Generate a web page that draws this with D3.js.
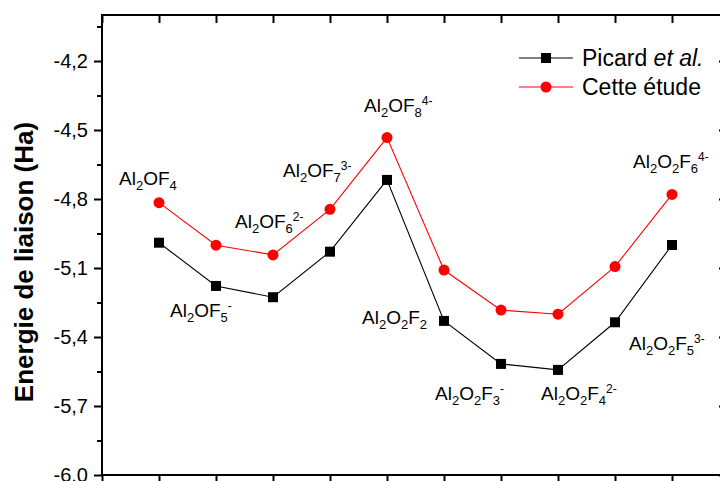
<!DOCTYPE html>
<html><head><meta charset="utf-8">
<script src="https://cdn.jsdelivr.net/npm/d3@7"></script>
<style>body{margin:0;background:#fff}svg{display:block}text{font-family:"Liberation Sans",Arial,sans-serif}</style>
</head><body><svg id="c" width="720" height="481"></svg>
<script>
const categories = [1,2,3,4,5,6,7,8,9,10];
const compounds = ["Al_2OF_4","Al_2OF_5^-","Al_2OF_6^2-","Al_2OF_7^3-","Al_2OF_8^4-","Al_2O_2F_2","Al_2O_2F_3^-","Al_2O_2F_4^2-","Al_2O_2F_5^3-","Al_2O_2F_6^4-"];
const picard = [-4.99,-5.178,-5.227,-5.029,-4.717,-5.330,-5.517,-5.543,-5.336,-5.000];
const cetteEtude = [-4.816,-5.001,-5.043,-4.845,-4.533,-5.109,-5.283,-5.301,-5.094,-4.780];
const yMajorTicks = [-6.0,-5.7,-5.4,-5.1,-4.8,-4.5,-4.2];
const yMinorTicks = [-5.85,-5.55,-5.25,-4.95,-4.65,-4.35,-4.05];
const xTicks = [0,1,2,3,4,5,6,7,8,9,10,11];
const seriesNames = ["Picard ", "et al.", "Cette étude"];

const svg = d3.select("#c");
const L = 102, T = 15, B = 475, Rax = 727;
const x = d3.scaleLinear().domain([0,11]).range([L, L + 57*11]);
const y = d3.scaleLinear().domain([-6.0,-4.0]).range([B, T]);
const fmt = v => d3.format(".1f")(v).replace("−","-").replace(".",",");

// left axis
const gl = svg.append("g").attr("transform",`translate(${L},0)`);
gl.call(d3.axisLeft(y).tickValues(yMajorTicks).tickSize(8).tickPadding(6).tickFormat(fmt));
gl.append("g").call(d3.axisLeft(y).tickValues(yMinorTicks).tickSize(5).tickFormat(""));
gl.selectAll(".domain").remove();
gl.selectAll("line").attr("stroke","#000").attr("stroke-width",2);
gl.selectAll("text").attr("font-size",20).attr("fill","#000").style("font-family","'Liberation Sans',Arial,sans-serif");

// right axis
const gr = svg.append("g").attr("transform",`translate(${Rax},0)`);
gr.call(d3.axisLeft(y).tickValues(yMajorTicks).tickSize(-8).tickFormat(""));
gr.selectAll(".domain").remove();
gr.selectAll("line").attr("stroke","#000").attr("stroke-width",2).attr("transform","translate(0,0)");
gr.selectAll("line").attr("x2",-8);

// top axis
const gt = svg.append("g").attr("transform",`translate(0,${T})`);
gt.call(d3.axisTop(x).tickValues(xTicks).tickSize(-8).tickFormat(""));
gt.selectAll(".domain").remove();
gt.selectAll("line").attr("stroke","#000").attr("stroke-width",2);

// bottom axis
const gb = svg.append("g").attr("transform",`translate(0,${B})`);
gb.call(d3.axisBottom(x).tickValues(xTicks).tickSize(7).tickFormat(""));
gb.selectAll(".domain").remove();
gb.selectAll("line").attr("stroke","#000").attr("stroke-width",2);

// frame lines
svg.append("line").attr("x1",L).attr("x2",L).attr("y1",T-1).attr("y2",B+1).attr("stroke","#000").attr("stroke-width",2);
svg.append("line").attr("x1",L-1).attr("x2",Rax+1).attr("y1",T).attr("y2",T).attr("stroke","#000").attr("stroke-width",2);
svg.append("line").attr("x1",L-1).attr("x2",Rax+1).attr("y1",B).attr("y2",B).attr("stroke","#000").attr("stroke-width",2);
svg.append("line").attr("x1",Rax).attr("x2",Rax).attr("y1",T).attr("y2",B).attr("stroke","#000").attr("stroke-width",2);

// y label
svg.append("text").attr("transform",`translate(33,262) rotate(-90)`).attr("text-anchor","middle")
  .attr("font-size",26).attr("font-weight","bold").attr("fill","#000").text("Energie de liaison (Ha)");

const line = d3.line().x((d,i)=>x(categories[i])).y(d=>y(d));
svg.append("path").datum(picard).attr("d",line).attr("fill","none").attr("stroke","#000").attr("stroke-width",1.1);
svg.append("path").datum(cetteEtude).attr("d",line).attr("fill","none").attr("stroke","#f00").attr("stroke-width",1.1);

svg.append("g").selectAll("rect").data(picard).join("rect")
  .attr("x",(d,i)=>x(categories[i])-5).attr("y",d=>y(d)-5).attr("width",10).attr("height",10).attr("fill","#000");
svg.append("g").selectAll("circle").data(cetteEtude).join("circle")
  .attr("cx",(d,i)=>x(categories[i])).attr("cy",d=>y(d)).attr("r",5.5).attr("fill","#f00");

// compound labels: [series (0 picard,1 cette), dx, dy]
const labelPos = [[1,-40,-18],[0,-46,31],[1,-38,-27],[1,-47,-32],[1,-23,-26],[0,-82,3],[0,-66,36],[0,-17,30],[0,14,28],[1,-39,-26]];
function formula(sel, s){
  let i=0, shift=0;
  const MAIN=19, SUB=13, SUP=12;
  while(i<s.length){
    const c=s[i];
    if(c==="_"){ const t=sel.append("tspan").attr("font-size",SUB).attr("dy",5-shift).text(s[i+1]); shift=5; i+=2; }
    else if(c==="^"){ const t=sel.append("tspan").attr("font-size",SUP).attr("dy",-7-shift).text(s.slice(i+1)); shift=-7; i=s.length; }
    else { let j=i; while(j<s.length && s[j]!=="_" && s[j]!=="^") j++; sel.append("tspan").attr("font-size",MAIN).attr("dy",-shift).text(s.slice(i,j)); shift=0; i=j; }
  }
}
compounds.forEach((s,k)=>{
  const p=labelPos[k]; const v=(p[0]===0?picard:cetteEtude)[k];
  const t=svg.append("text").attr("x",x(categories[k])+p[1]).attr("y",y(v)+p[2]).attr("fill","#000");
  formula(t,s);
});

// legend
const lg = svg.append("g");
lg.append("line").attr("x1",519).attr("x2",573).attr("y1",58).attr("y2",58).attr("stroke","#000").attr("stroke-width",1.1);
lg.append("rect").attr("x",541).attr("y",53).attr("width",10).attr("height",10).attr("fill","#000");
lg.append("line").attr("x1",519).attr("x2",573).attr("y1",87).attr("y2",87).attr("stroke","#f00").attr("stroke-width",1.1);
lg.append("circle").attr("cx",546).attr("cy",87).attr("r",5.5).attr("fill","#f00");
const t1 = lg.append("text").attr("x",582).attr("y",66).attr("font-size",23).attr("fill","#000");
t1.append("tspan").text(seriesNames[0]);
t1.append("tspan").attr("font-style","italic").text(seriesNames[1]);
lg.append("text").attr("x",582).attr("y",95).attr("font-size",23).attr("fill","#000").text(seriesNames[2]);
</script></body></html>
